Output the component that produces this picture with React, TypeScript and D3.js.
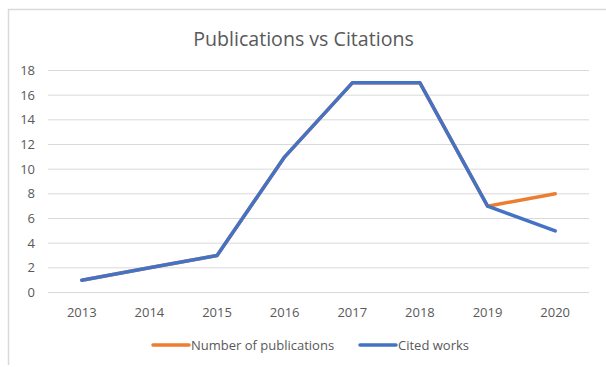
import React from "react";
import * as d3 from "d3";

const years = ["2013", "2014", "2015", "2016", "2017", "2018", "2019", "2020"];
const publications = [1, 2, 3, 11, 17, 17, 7, 8];
const citedWorks = [1, 2, 3, 11, 17, 17, 7, 5];
const yTicks = [0, 2, 4, 6, 8, 10, 12, 14, 16, 18];
const seriesNames = ["Number of publications", "Cited works"];
const colors = ["#ED7D31", "#4472C4"];

export default function App() {
  const W = 606, H = 367;
  const x = d3.scaleBand<string>().domain(years).range([48, 589]);
  const y = d3.scaleLinear().domain([0, 18]).range([292.5, 70.5]);
  const line = d3
    .line<number>()
    .x((_, i) => (x(years[i]) as number) + x.bandwidth() / 2)
    .y((d) => y(d));
  const font = "'Open Sans', sans-serif";
  const txt = "#595959";
  return (
    <svg width={W} height={H} style={{ position: "absolute", left: 0, top: 0 }}>
      <rect x={0} y={0} width={W} height={H} fill="#fff" />
      <line x1={8} x2={W} y1={9.5} y2={9.5} stroke="#D9D9D9" strokeWidth={1.5} />
      <line x1={8.5} x2={8.5} y1={9} y2={365} stroke="#D9D9D9" strokeWidth={1.5} />
      <text x={303.5} y={46} textAnchor="middle" fontFamily={font} fontSize={19.6} fill={txt}>
        Publications vs Citations
      </text>
      {yTicks.map((t) => (
        <g key={t}>
          <line x1={48} x2={589} y1={y(t)} y2={y(t)} stroke="#D9D9D9" strokeWidth={1} />
          <text x={35} y={y(t) + 4.5} textAnchor="end" fontFamily={font} fontSize={13} fill={txt}>
            {t}
          </text>
        </g>
      ))}
      {years.map((yr) => (
        <text
          key={yr}
          x={(x(yr) as number) + x.bandwidth() / 2}
          y={317}
          textAnchor="middle"
          fontFamily={font}
          fontSize={13}
          fill={txt}
        >
          {yr}
        </text>
      ))}
      {[publications, citedWorks].map((s, i) => (
        <path
          key={i}
          d={line(s) as string}
          fill="none"
          stroke={colors[i]}
          strokeWidth={3.5}
          strokeLinejoin="round"
          strokeLinecap="round"
        />
      ))}
      {seriesNames.map((n, i) => {
        const lx = i === 0 ? 153 : 360;
        return (
          <g key={n}>
            <line x1={lx} x2={lx + 36} y1={345} y2={345} stroke={colors[i]} strokeWidth={3.5} strokeLinecap="round" />
            <text x={lx + 38} y={349.5} fontFamily={font} fontSize={13} fill={txt}>
              {n}
            </text>
          </g>
        );
      })}
    </svg>
  );
}
